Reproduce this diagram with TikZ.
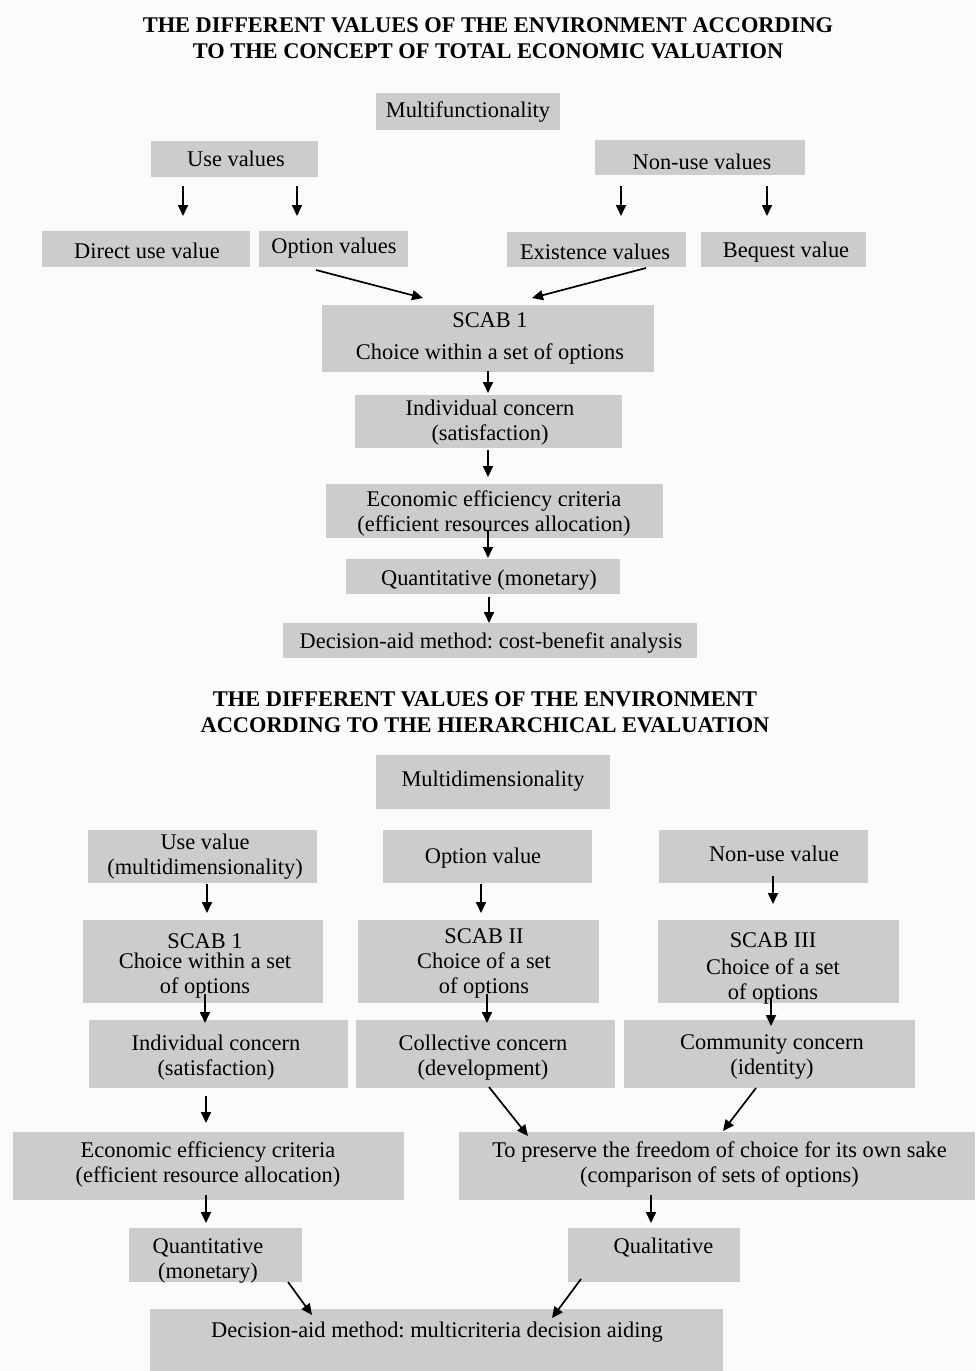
\documentclass[tikz,border=0pt]{standalone}
\usepackage{fontspec}
\setmainfont{Liberation Serif}
\usetikzlibrary{arrows.meta}
\definecolor{boxgray}{RGB}{204,204,204}
\definecolor{bggray}{RGB}{251,251,251}
\tikzset{
  gbox/.style={rectangle, fill=boxgray, draw=none, inner sep=0pt},
  txt/.style={inner sep=0pt, align=center, yshift=-2pt, font=\fontsize{22.4}{25}\selectfont\frenchspacing},
  ttl/.style={inner sep=0pt, align=center, yshift=-1pt, font=\fontsize{22.4}{26}\selectfont\bfseries},
  arr/.style={line width=1.7pt, -{Triangle[length=11pt,width=10pt]}}
}
\newcommand\gbox[5]{\node[gbox, minimum width={#4-#2}, minimum height={#5-#3}] (#1) at ({(#2+#4)/2},{(#3+#5)/2}) {};}
\begin{document}
\begin{tikzpicture}[x=1pt,y=-1pt]
\fill[bggray] (0,0) rectangle (975,1371);
\useasboundingbox (0,0) rectangle (975,1371);

% ---------- Title 1 ----------
\node[ttl] (title1) at (488,37) {THE DIFFERENT VALUES OF THE ENVIRONMENT ACCORDING\\TO THE CONCEPT OF TOTAL ECONOMIC VALUATION};

% ---------- Top diagram ----------
\gbox{mf}{376}{93}{560}{130}
\node[txt] (mf-t) at (468,110) {Multifunctionality};
\gbox{uv}{151}{141}{318}{177}
\node[txt] (uv-t) at (236,157) {Use values};
\gbox{nuv}{595}{140}{805}{175}
\node[txt] (nuv-t) at (702,160) {Non-use values};
\gbox{duv}{42}{231}{250}{267}
\node[txt] (duv-t) at (147,249) {Direct use value};
\gbox{ov}{259}{231}{408}{267}
\node[txt] (ov-t) at (334,246) {Option values};
\gbox{ev}{507}{232}{686}{267}
\node[txt] (ev-t) at (595,250) {Existence values};
\gbox{bv}{701}{232}{866}{267}
\node[txt] (bv-t) at (786,250) {Bequest value};
\gbox{scab}{322}{305}{654}{372}
\node[txt] (scab-t) at (490,336) {SCAB 1\\[7pt]Choice within a set of options};
\gbox{ic}{355}{395}{622}{448}
\node[txt] (ic-t) at (490,420.5) {Individual concern\\(satisfaction)};
\gbox{ee}{326}{484}{663}{538}
\node[txt] (ee-t) at (494,511.5) {Economic efficiency criteria\\(efficient resources allocation)};
\gbox{qm}{346}{559}{620}{594}
\node[txt] (qm-t) at (489,578) {Quantitative (monetary)};
\gbox{dcb}{283}{623}{697}{658}
\node[txt] (dcb-t) at (491,641) {Decision-aid method: cost-benefit analysis};

\coordinate (a1s) at (183,186); \coordinate (a1e) at (183,216);
\coordinate (a2s) at (297,186); \coordinate (a2e) at (297,216);
\coordinate (a3s) at (621,186); \coordinate (a3e) at (621,216);
\coordinate (a4s) at (767,186); \coordinate (a4e) at (767,216);
\coordinate (a5s) at (316,270); \coordinate (a5e) at (423,298);
\coordinate (a6s) at (646,268); \coordinate (a6e) at (532,298);
\coordinate (a7s) at (488,371); \coordinate (a7e) at (488,393);
\coordinate (a8s) at (488,450); \coordinate (a8e) at (488,477);
\coordinate (a9s) at (488,530); \coordinate (a9e) at (488,558);
\coordinate (a10s) at (489,597); \coordinate (a10e) at (489,623);
\foreach \i in {1,...,10} {\draw[arr] (a\i s) -- (a\i e);}

% ---------- Title 2 ----------
\node[ttl] (title2) at (485,711) {THE DIFFERENT VALUES OF THE ENVIRONMENT\\ACCORDING TO THE HIERARCHICAL EVALUATION};

% ---------- Lower diagram ----------
\gbox{md}{376}{755}{610}{809}
\node[txt] (md-t) at (493,779) {Multidimensionality};
\gbox{luv}{88}{830}{317}{883}
\node[txt] (luv-t) at (205,855) {Use value\\(multidimensionality)};
\gbox{lov}{383}{830}{592}{883}
\node[txt] (lov-t) at (483,856) {Option value};
\gbox{lnuv}{659}{830}{868}{883}
\node[txt] (lnuv-t) at (774,852) {Non-use value};
\gbox{s1}{83}{920}{323}{1003}
\node[txt] (s1-t) at (205,964) {SCAB 1\\[-5pt]Choice within a set\\of options};
\gbox{s2}{358}{920}{599}{1003}
\node[txt] (s2-t) at (484,961) {SCAB II\\Choice of a set\\of options};
\gbox{s3}{658}{920}{899}{1003}
\node[txt] (s3-t) at (773,966.5) {SCAB III\\[2pt]Choice of a set\\of options};
\gbox{lic}{89}{1020}{348}{1088}
\node[txt] (lic-t) at (216,1055.5) {Individual concern\\(satisfaction)};
\gbox{cc}{356}{1020}{615}{1088}
\node[txt] (cc-t) at (483,1055.5) {Collective concern\\(development)};
\gbox{comc}{624}{1020}{915}{1088}
\node[txt] (comc-t) at (772,1054.5) {Community concern\\(identity)};
\gbox{lee}{13}{1132}{404}{1200}
\node[txt] (lee-t) at (208,1162.5) {Economic efficiency criteria\\(efficient resource allocation)};
\gbox{pf}{459}{1132}{975}{1200}
\node[txt] (pf-t) at (719.5,1162.5) {To preserve the freedom of choice for its own sake\\(comparison of sets of options)};
\gbox{lqm}{129}{1228}{302}{1282}
\node[txt] (lqm-t) at (208,1258.5) {Quantitative\\(monetary)};
\gbox{ql}{568}{1228}{740}{1282}
\node[txt] (ql-t) at (663.5,1246) {Qualitative};
\gbox{dmc}{150}{1309}{723}{1371}
\node[txt] (dmc-t) at (437,1330) {Decision-aid method: multicriteria decision aiding};

\coordinate (b1s) at (207,884); \coordinate (b1e) at (207,913);
\coordinate (b2s) at (481,884); \coordinate (b2e) at (481,913);
\coordinate (b3s) at (773,876); \coordinate (b3e) at (773,904);
\coordinate (b4s) at (205,994); \coordinate (b4e) at (205,1023);
\coordinate (b5s) at (487,994); \coordinate (b5e) at (487,1023);
\coordinate (b6s) at (771,998); \coordinate (b6e) at (771,1026);
\coordinate (b7s) at (206,1096); \coordinate (b7e) at (206,1123);
\coordinate (b8s) at (489,1087); \coordinate (b8e) at (528,1136);
\coordinate (b9s) at (756,1088); \coordinate (b9e) at (723,1131);
\coordinate (b10s) at (206,1195); \coordinate (b10e) at (206,1223);
\coordinate (b11s) at (651,1195); \coordinate (b11e) at (651,1223);
\coordinate (b12s) at (288,1282); \coordinate (b12e) at (312,1315);
\coordinate (b13s) at (581,1279); \coordinate (b13e) at (552,1318);
\foreach \i in {1,...,13} {\draw[arr] (b\i s) -- (b\i e);}
\end{tikzpicture}
\end{document}
